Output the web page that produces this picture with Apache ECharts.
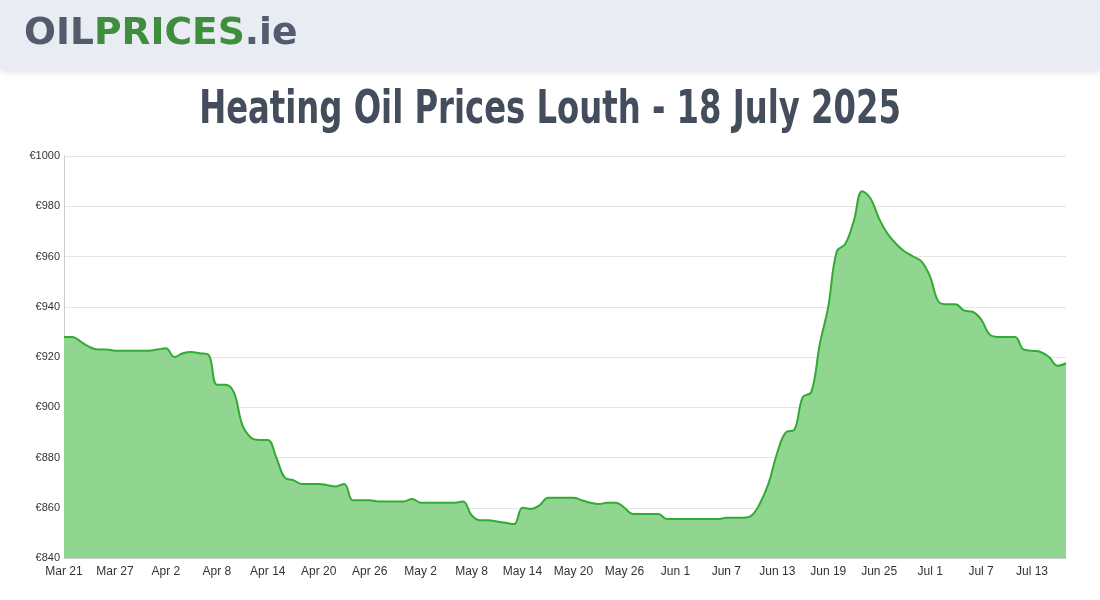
<!DOCTYPE html>
<html><head><meta charset="utf-8">
<script src="https://cdn.jsdelivr.net/npm/echarts@6/dist/echarts.min.js"></script>
<style>html,body{margin:0;padding:0;background:#fff}#c{width:1100px;height:600px}</style>
</head><body><div id="c"></div>
<script>
const startDate = [2025, 2, 21];
const prices = [928,928,926,924,923,923,922.5,922.5,922.5,922.5,922.5,923,923.5,920,921.5,922,921.5,921,909,909,906,893,888,887,887,880,872,871,869.5,869.5,869.5,869,868.5,869.5,863,863,863,862.5,862.5,862.5,862.5,863.5,862,862,862,862,862,862.5,857,855,855,854.5,854,853.5,860,859.5,861,864,864,864,864,863,862,861.5,862,862,860,857.5,857.5,857.5,857.5,855.5,855.5,855.5,855.5,855.5,855.5,855.5,856,856,856,857,862,870,882,890,891,904,906,925,940,962,965,974,986,983,975,969,965,962,960,958,952,942,941,941,938.5,938,935,929,928,928,928,923,922.5,922,920,916.5,917.5];
const months = ['Jan','Feb','Mar','Apr','May','Jun','Jul','Aug','Sep','Oct','Nov','Dec'];
const dates = prices.map((_, i) => { const d = new Date(startDate[0], startDate[1], startDate[2] + i); return months[d.getMonth()] + ' ' + d.getDate(); });
const chart = echarts.init(document.getElementById('c'));
chart.setOption({
  animation:false,
  graphic:[
    {type:'rect',shape:{x:0,y:0,width:1100,height:70},style:{fill:'#e9ecf3',shadowBlur:6,shadowColor:'rgba(0,0,0,0.12)',shadowOffsetY:2},z:-1},
    {type:'text',x:24,y:15,scaleX:1.1,style:{text:'{a|OIL}{b|PRICES}{a|.ie}',rich:{a:{fill:'#535c6c',font:'bold 38px "DejaVu Sans Condensed"'},b:{fill:'#3e8e3e',font:'bold 38px "DejaVu Sans Condensed"'}}}},
    {type:'text',x:550,y:88,scaleX:0.78,style:{text:'Heating Oil Prices Louth - 18 July 2025',align:'center',fill:'#444d5c',font:'bold 46px "DejaVu Sans Condensed"'}}
  ],
  grid:{left:64,right:34,top:156,bottom:42},
  xAxis:{type:'category',data:dates,boundaryGap:false,
    axisLine:{lineStyle:{color:'#ccc'}},axisTick:{show:false},
    axisLabel:{interval:5,color:'#333',fontSize:12,fontFamily:'Arial'},splitLine:{show:false}},
  yAxis:{type:'value',min:840,max:1000,interval:20,
    axisLine:{show:true,lineStyle:{color:'#ccc'}},
    axisLabel:{formatter:v=>'€'+v,color:'#333',fontSize:11,fontFamily:'Arial',margin:4},
    splitLine:{lineStyle:{color:'#e5e5e5'}}},
  series:[{type:'line',data:prices,smooth:0.4,showSymbol:false,
    lineStyle:{color:'#33aa33',width:2},areaStyle:{color:'#90d690',opacity:1}}]
});
</script></body></html>
